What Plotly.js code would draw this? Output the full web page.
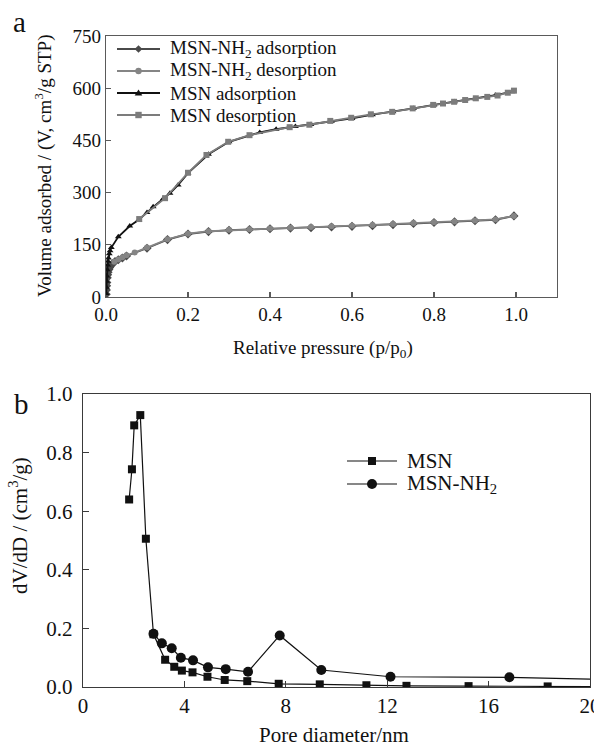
<!DOCTYPE html>
<html>
<head>
<meta charset="utf-8">
<script src="https://cdn.plot.ly/plotly-3.0.1.min.js"></script>
<style>html,body{margin:0;padding:0;background:#fff;}#chart{width:594px;height:749px;}</style>
</head>
<body>
<div id="chart"></div>
<script>
// ---------- Panel a : N2 isotherms ----------
const nh2AdsP = [0.0005,0.001,0.0015,0.002,0.003,0.004,0.005,0.007,0.009,0.012,0.016,0.022,0.03,0.04,0.05,0.1,0.15,0.2,0.25,0.3,0.35,0.4,0.45,0.5,0.55,0.6,0.65,0.7,0.75,0.8,0.85,0.9,0.95,0.995];
const nh2AdsV = [8,20,32,42,55,64,71,79,85,90,96,102,107,112,118,140,165,181,188,192,194,196,198,199,201,203,205,208,211,214,216,219,222,233];
const nh2DesP = [0.995,0.95,0.9,0.85,0.8,0.75,0.7,0.65,0.6,0.55,0.5,0.45,0.4,0.35,0.3,0.25,0.2,0.15,0.1,0.07,0.05,0.04,0.03,0.02];
const nh2DesV = [233,223,220,217,215,213,210,207,205,203,201,199,197,195,193,189,182,166,142,128,120,114,108,101];
const msnAdsP = [0.0005,0.001,0.0015,0.002,0.003,0.004,0.005,0.006,0.008,0.01,0.013,0.03,0.058,0.08,0.1,0.115,0.14,0.156,0.176,0.2,0.25,0.3,0.375,0.415,0.462,0.5,0.55,0.6,0.65,0.7,0.75,0.8,0.85,0.9,0.95,0.99];
const msnAdsV = [10,28,45,60,78,92,103,112,124,133,142,173,204,222,243,259,283,298,322,356,410,446,473,482,490,496,505,513,524,532,542,552,561,570,580,590];
const msnDesP = [0.995,0.98,0.955,0.93,0.902,0.876,0.849,0.822,0.798,0.748,0.698,0.646,0.598,0.547,0.496,0.448,0.35,0.298,0.245,0.2,0.144,0.081];
const msnDesV = [593,587,579,575,571,566,561,556,552,542,532,525,515,506,495,488,465,446,408,357,284,224];

// ---------- Panel b : pore size distribution ----------
const msnD = [1.82,1.93,2.02,2.26,2.48,2.78,3.24,3.6,3.9,4.32,4.91,5.59,6.48,7.72,9.34,11.18,12.76,15.21,18.33,21.5];
const msnDV = [0.640,0.743,0.893,0.928,0.506,0.180,0.093,0.069,0.056,0.050,0.035,0.024,0.020,0.011,0.009,0.006,0.004,0.003,0.002,0.001];
const nh2D = [2.78,3.11,3.5,3.86,4.34,4.93,5.63,6.51,7.76,9.4,12.13,16.82,22];
const nh2DV = [0.182,0.149,0.132,0.100,0.091,0.067,0.061,0.052,0.176,0.058,0.035,0.033,0.023];

const legendA = ['MSN-NH<sub>2</sub> adsorption','MSN-NH<sub>2</sub> desorption','MSN adsorption','MSN desorption'];
const legendB = ['MSN','MSN-NH<sub>2</sub>'];

const W = 594, H = 749;
const px = x => x / W;
const py = y => 1 - y / H;
const FONT = '"Liberation Serif", "Times New Roman", Times, serif';

const colA = ['#4a4a4a','#858585','#111111','#7c7c7c'];
const symA = ['diamond','circle','triangle-up','square'];

const traces = [
  {x: nh2AdsP, y: nh2AdsV, name: legendA[0], xaxis:'x', yaxis:'y', mode:'lines+markers',
   line:{color:colA[0], width:1.8}, marker:{symbol:symA[0], size:7, color:colA[0]}},
  {x: nh2DesP, y: nh2DesV, name: legendA[1], xaxis:'x', yaxis:'y', mode:'lines+markers',
   line:{color:colA[1], width:1.8}, marker:{symbol:symA[1], size:6, color:colA[1]}},
  {x: msnAdsP, y: msnAdsV, name: legendA[2], xaxis:'x', yaxis:'y', mode:'lines+markers',
   line:{color:colA[2], width:1.8}, marker:{symbol:symA[2], size:6, color:colA[2]}},
  {x: msnDesP, y: msnDesV, name: legendA[3], xaxis:'x', yaxis:'y', mode:'lines+markers',
   line:{color:colA[3], width:1.8}, marker:{symbol:symA[3], size:6, color:colA[3]}},
  {x: msnD, y: msnDV, name: legendB[0], xaxis:'x2', yaxis:'y2', mode:'lines+markers',
   line:{color:'#111', width:1.2}, marker:{symbol:'square', size:8, color:'#111'}},
  {x: nh2D, y: nh2DV, name: legendB[1], xaxis:'x2', yaxis:'y2', mode:'lines+markers',
   line:{color:'#111', width:1.2}, marker:{symbol:'circle', size:10, color:'#111'}}
];

// custom legends (shapes + text)
const shapes = [];
const annotations = [];
function legendItem(x1, x2, y, color, sym, r, label, fs, lw) {
  shapes.push({type:'line', xref:'paper', yref:'paper', x0:px(x1), x1:px(x2), y0:py(y), y1:py(y),
               line:{color:color, width:lw}});
  const cx = (x1 + x2) / 2;
  let path;
  if (sym === 'circle') {
    shapes.push({type:'circle', xref:'paper', yref:'paper', x0:px(cx-r), x1:px(cx+r), y0:py(y-r), y1:py(y+r),
                 fillcolor:color, line:{color:color, width:0}});
  } else if (sym === 'square') {
    shapes.push({type:'rect', xref:'paper', yref:'paper', x0:px(cx-r), x1:px(cx+r), y0:py(y-r), y1:py(y+r),
                 fillcolor:color, line:{color:color, width:0}});
  } else if (sym === 'diamond') {
    path = `M${px(cx)},${py(y-r*1.2)} L${px(cx+r*1.2)},${py(y)} L${px(cx)},${py(y+r*1.2)} L${px(cx-r*1.2)},${py(y)} Z`;
    shapes.push({type:'path', xref:'paper', yref:'paper', path:path, fillcolor:color, line:{color:color, width:0}});
  } else if (sym === 'triangle-up') {
    path = `M${px(cx)},${py(y-r*1.1)} L${px(cx+r*1.2)},${py(y+r*0.8)} L${px(cx-r*1.2)},${py(y+r*0.8)} Z`;
    shapes.push({type:'path', xref:'paper', yref:'paper', path:path, fillcolor:color, line:{color:color, width:0}});
  }
  annotations.push({xref:'paper', yref:'paper', x:px(x2+8), y:py(y), xanchor:'left', yanchor:'middle',
                    text:label, showarrow:false, font:{family:FONT, size:fs, color:'#111'}});
}
const rowsA = [49, 71, 93, 115];
for (let i = 0; i < 4; i++) legendItem(117, 160, rowsA[i], colA[i], symA[i], 3.2, legendA[i], 19, 1.8);
legendItem(347, 397, 461, '#111', 'square', 4, legendB[0], 21, 1.2);
legendItem(347, 397, 484, '#111', 'circle', 5, legendB[1], 21, 1.2);

function label(x, y, text, size, angle) {
  annotations.push({xref:'paper', yref:'paper', x:px(x), y:py(y), xanchor:'center', yanchor:'middle',
    text:text, textangle:angle || 0, showarrow:false, font:{family:FONT, size:size, color:'#111'}});
}
label(19, 22, 'a', 29);
label(21, 404, 'b', 29);
label(323, 349, 'Relative pressure (p/p<sub>0</sub>)', 19);
label(43, 166, 'Volume adsorbed / (V, cm<sup>3</sup>/g STP)', 19, -90);
label(334, 735, 'Pore diameter/nm', 21);
label(18, 526, 'dV/dD / (cm<sup>3</sup>/g)', 21, -90);

const axA = {showgrid:false, zeroline:false, showline:true, mirror:true, linecolor:'#5a5a5a', linewidth:1.3,
             ticks:'inside', ticklen:5, tickcolor:'#5a5a5a', tickwidth:1.2, ticklabeloverflow:'allow',
             tickfont:{family:FONT, size:19, color:'#111'}};
const axB = {showgrid:false, zeroline:false, showline:true, mirror:true, linecolor:'#3a3a3a', linewidth:1.2,
             ticks:'inside', ticklen:6, tickcolor:'#3a3a3a', tickwidth:1.2, ticklabeloverflow:'allow',
             tickfont:{family:FONT, size:21, color:'#111'}};

const layout = {
  width: W, height: H, margin:{l:0, r:0, t:0, b:0}, paper_bgcolor:'#fff', plot_bgcolor:'#fff',
  showlegend:false, hovermode:false,
  xaxis: Object.assign({}, axA, {domain:[px(106), px(557)], range:[0, 1.1], dtick:0.2, tick0:0, tickformat:'.1f', anchor:'y'}),
  yaxis: Object.assign({}, axA, {domain:[py(297), py(36)], range:[0, 750], dtick:150, tick0:0, anchor:'x'}),
  xaxis2: Object.assign({}, axB, {domain:[px(83), px(590)], range:[0, 20], dtick:4, tick0:0, anchor:'y2'}),
  yaxis2: Object.assign({}, axB, {domain:[py(687), py(394)], range:[0, 1.0], dtick:0.2, tick0:0, tickformat:'.1f', anchor:'x2', ticklabelstandoff:5}),
  shapes: shapes,
  annotations: annotations
};

Plotly.newPlot('chart', traces, layout, {displayModeBar:false, staticPlot:true});
</script>
</body>
</html>
